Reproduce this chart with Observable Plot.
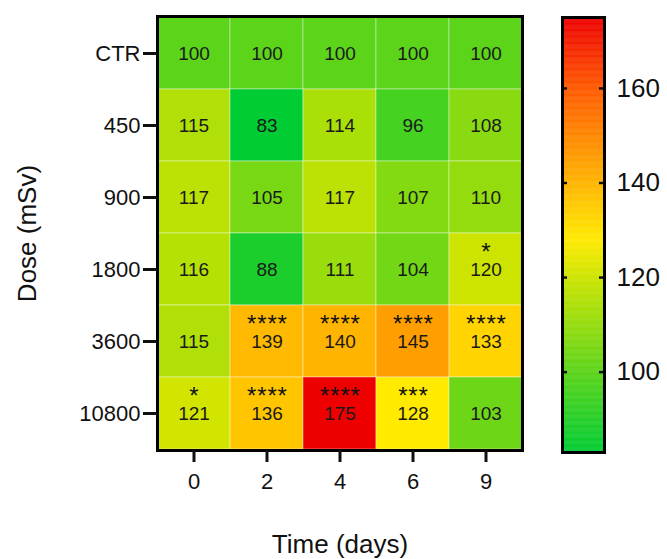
<!DOCTYPE html>
<html>
<head>
<meta charset="utf-8">
<script src="https://cdn.jsdelivr.net/npm/d3@7"></script>
<script src="https://cdn.jsdelivr.net/npm/@observablehq/plot@0.6"></script>
<style>
  body { margin: 0; background: #fff; }
  #wrap { position: relative; width: 667px; height: 559px; font-family: "Liberation Sans", Arial, sans-serif; }
  #heat { position: absolute; left: 0; top: 0; }
  #bar { position: absolute; left: 530px; top: 0; }
</style>
</head>
<body>
<div id="wrap"><div id="heat"></div><div id="bar"></div></div>
<script>
const times = ["0", "2", "4", "6", "9"];
const doses = ["CTR", "450", "900", "1800", "3600", "10800"];
const values = [
  [100, 100, 100, 100, 100],
  [115, 83, 114, 96, 108],
  [117, 105, 117, 107, 110],
  [116, 88, 111, 104, 120],
  [115, 139, 140, 145, 133],
  [121, 136, 175, 128, 103]
];
const stars = [
  ["", "", "", "", ""],
  ["", "", "", "", ""],
  ["", "", "", "", ""],
  ["", "", "", "", "*"],
  ["", "****", "****", "****", "****"],
  ["*", "****", "****", "***", ""]
];
const colorStops = [83, 100, 120, 128, 140, 160, 175];
const colorRange = ["#00cc33", "#5cd41a", "#cce400", "#ffea00", "#ffb400", "#ff5a00", "#ee0000"];
const barTicks = [100, 120, 140, 160];

const table = [];
doses.forEach((d, i) => times.forEach((t, j) => table.push({dose: d, time: t, value: values[i][j], sig: stars[i][j]})));

const colorSpec = {type: "linear", domain: colorStops, range: colorRange, interpolate: "rgb"};
const font = "'Liberation Sans', Arial, sans-serif";

const heat = Plot.plot({
  width: 530, height: 559,
  marginLeft: 157, marginRight: 8, marginTop: 16, marginBottom: 109,
  style: {fontFamily: font, fontSize: "22px", color: "#111", background: "transparent"},
  x: {domain: times, padding: 0},
  y: {domain: doses, padding: 0},
  color: colorSpec,
  marks: [
    Plot.cell(table, {x: "time", y: "dose", fill: "value", stroke: "rgba(255,255,255,0.4)", strokeWidth: 1}),
    Plot.text(table, {x: "time", y: "dose", text: d => String(d.value), fontSize: 19, fill: "#1a1a1a"}),
    Plot.text(table, {x: "time", y: "dose", text: "sig", fontSize: 24, dy: -17, dx: 0.4, fill: "#111"}),
    Plot.frame({stroke: "#000", strokeWidth: 3}),
    Plot.axisX({tickSize: 12, tickPadding: 11, strokeWidth: 3, label: null, fontSize: 22}),
    Plot.axisY({tickSize: 14, tickPadding: 3, strokeWidth: 3, label: null, fontSize: 22}),
    Plot.text(["Time (days)"], {frameAnchor: "bottom", lineAnchor: "middle", textAnchor: "middle", dy: 94, fontSize: 26, fill: "#111"}),
    Plot.text(["Dose (mSv)"], {frameAnchor: "left", lineAnchor: "middle", textAnchor: "middle", dx: -130, rotate: -90, fontSize: 26, fill: "#111"})
  ]
});
heat.querySelectorAll("text").forEach(t => {
  if (/^\*+$/.test(t.textContent)) t.style.letterSpacing = "0.8px";
});
document.getElementById("heat").appendChild(heat);

const step = 0.25;
const ramp = d3.range(colorStops[0], colorStops[colorStops.length - 1], step);
const bar = Plot.plot({
  width: 137, height: 559,
  marginLeft: 32, marginRight: 63, marginTop: 17, marginBottom: 107,
  style: {fontFamily: font, fontSize: "26px", color: "#111", background: "transparent"},
  x: {domain: [0, 1], axis: null},
  y: {domain: [colorStops[0], colorStops[colorStops.length - 1]]},
  color: colorSpec,
  marks: [
    Plot.rect(ramp, {x1: () => 0, x2: () => 1, y1: d => d, y2: d => d + step, fill: d => d + step / 2, stroke: d => d + step / 2, strokeWidth: 0.5}),
    Plot.ruleY(barTicks, {y: d => d, x1: () => 0, x2: () => 0.12, strokeWidth: 2.5}),
    Plot.ruleY(barTicks, {y: d => d, x1: () => 0.88, x2: () => 1, strokeWidth: 2.5}),
    Plot.frame({stroke: "#000", strokeWidth: 3}),
    Plot.axisY({ticks: barTicks, anchor: "right", tickSize: 0, tickPadding: 12, label: null, fontSize: 26})
  ]
});
document.getElementById("bar").appendChild(bar);
</script>
</body>
</html>
